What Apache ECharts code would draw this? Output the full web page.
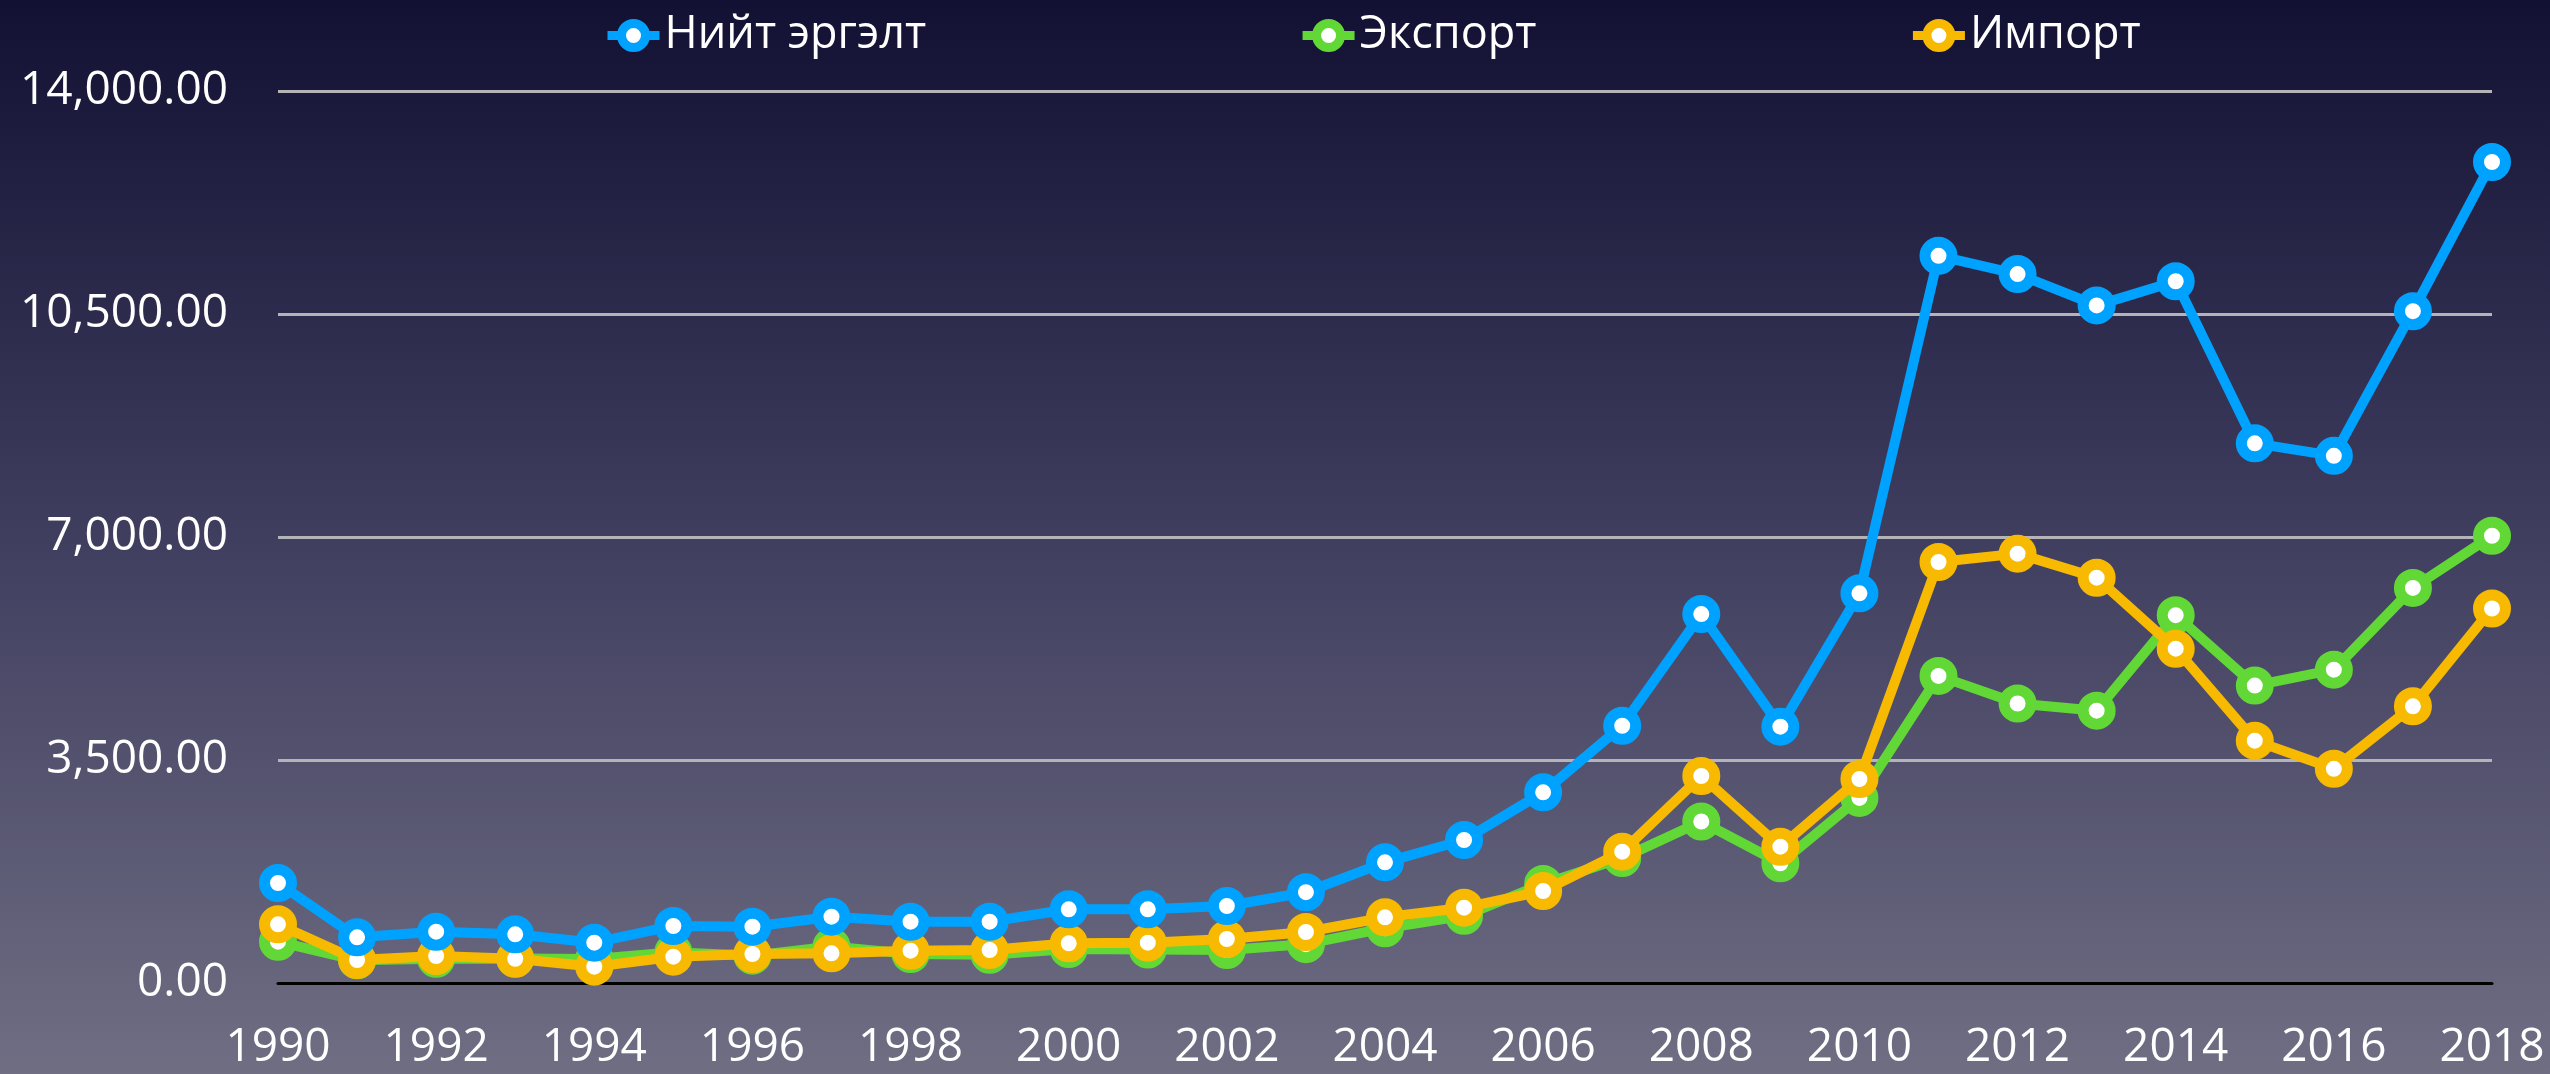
<!DOCTYPE html>
<html>
<head>
<meta charset="utf-8">
<script src="https://cdn.jsdelivr.net/npm/echarts@6/dist/echarts.min.js"></script>
<style>
html,body{margin:0;padding:0;}
#main{width:2550px;height:1074px;}
</style>
</head>
<body>
<div id="main"></div>
<script>
var years=['1990','1991','1992','1993','1994','1995','1996','1997','1998','1999','2000','2001','2002','2003','2004','2005','2006','2007','2008','2009','2010','2011','2012','2013','2014','2015','2016','2017','2018']

// Нийт эргэлт
var totalVals=[1570,717,805,764,633,895,884,1041,962,962,1157,1157,1209,1425,1894,2244,2992,4038,5790,4023,6116,11413,11126,10635,11014,8470,8274,10544,12886]
// Экспорт
var exportVals=[648,356,381,383,377,482,429,575,455,444,534,524,518,610,860,1055,1555,1960,2535,1879,2905,4820,4387,4274,5773,4668,4918,6201,7020]
// Импорт
var importVals=[921,361,424,381,256,413,455,466,507,518,623,633,691,800,1031,1182,1444,2061,3249,2139,3202,6608,6739,6361,5247,3804,3362,4343,5878]

var yTicks=[0,3500,7000,10500,14000]

var chart=echarts.init(document.getElementById('main'))

var fontName='"Open Sans", "Noto Sans", sans-serif'

function mkSeries(name,data,color,z){
	return {
		name:name,
		type:'line',
		data:data,
		z:z,
		symbol:'circle',
		symbolSize:27,
		lineStyle:{color:color,width:10},
		itemStyle:{color:'#ffffff',borderColor:color,borderWidth:11},
		emphasis:{disabled:true}
	}
}

var option={
	animation:false,
	backgroundColor:{
		type:'linear',x:0,y:0,x2:0,y2:1,
		colorStops:[
			{offset:0,color:'#131133'},
			{offset:0.5,color:'#403e5f'},
			{offset:1,color:'#6f6e83'}
		]
	},
	textStyle:{fontFamily:fontName},
	legend:{
		data:['Нийт эргэлт','Экспорт','Импорт'],
		left:598,
		top:8,
		itemGap:372,
		itemWidth:52,
		itemHeight:30,
		lineStyle:{width:9},
		itemStyle:{borderWidth:9},
		textStyle:{color:'#ffffff',fontSize:45,fontFamily:fontName}
	},
	grid:{
		left:278,
		right:58,
		top:91,
		bottom:91,
		containLabel:false
	},
	xAxis:{
		type:'category',
		data:years,
		boundaryGap:false,
		axisTick:{show:false},
		axisLine:{show:true,lineStyle:{color:'#000000',width:3}},
		axisLabel:{
			interval:1,
			color:'#ffffff',
			fontSize:46,
			fontFamily:fontName,
			margin:42
		},
		splitLine:{show:false}
	},
	yAxis:{
		type:'value',
		min:yTicks[0],
		max:yTicks[yTicks.length-1],
		interval:3500,
		axisLine:{show:false},
		axisTick:{show:false},
		axisLabel:{
			color:'#ffffff',
			fontSize:46,
			fontFamily:fontName,
			margin:50,
			formatter:function(v){
				return v.toLocaleString('en-US',{minimumFractionDigits:2,maximumFractionDigits:2})
			}
		},
		splitLine:{
			show:true,
			lineStyle:{color:'#b4b4b8',width:3,type:'solid'}
		}
	},
	series:[
		mkSeries('Нийт эргэлт',totalVals,'#00a2ff',4),
		mkSeries('Экспорт',exportVals,'#61d836',2),
		mkSeries('Импорт',importVals,'#f8ba00',3)
	]
}

chart.setOption(option)
</script>
</body>
</html>
